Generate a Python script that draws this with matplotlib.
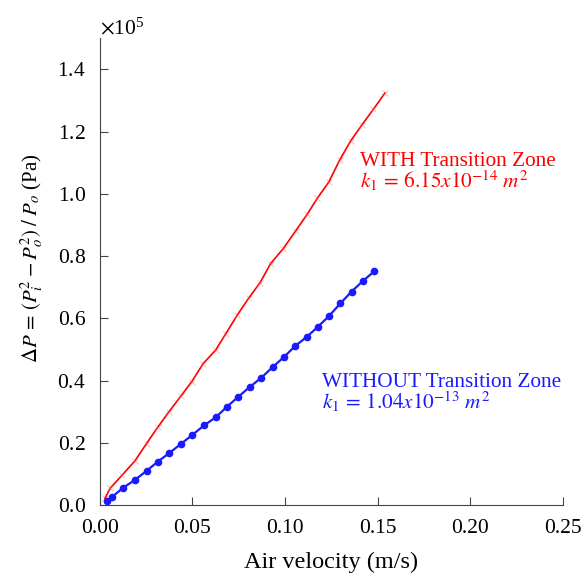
import numpy as np
import matplotlib
matplotlib.use('Agg')
import matplotlib.pyplot as plt

plt.rcParams['font.family'] = ['Liberation Serif', 'DejaVu Serif']
plt.rcParams['mathtext.fontset'] = 'stix'

# data (pressure in Pa)
v_with = [0.0027, 0.0056, 0.0120, 0.0189, 0.0252, 0.0312, 0.0373, 0.0437, 0.0495,
          0.0558, 0.0625, 0.0680, 0.0741, 0.0806, 0.0864, 0.0922, 0.0990, 0.1057,
          0.1119, 0.1173, 0.1236, 0.1296, 0.1354, 0.1413, 0.1476, 0.1539]
dp_with = [0.0215, 0.0546, 0.0963, 0.142, 0.198, 0.250, 0.300, 0.350, 0.396,
           0.455, 0.498, 0.551, 0.610, 0.667, 0.714, 0.776, 0.824, 0.881,
           0.934, 0.985, 1.038, 1.110, 1.170, 1.220, 1.271, 1.324]

v_without = [0.0036, 0.0067, 0.0126, 0.0189, 0.0252, 0.0313, 0.0374, 0.0436, 0.0500,
             0.0562, 0.0625, 0.0686, 0.0747, 0.0810, 0.0871, 0.0932, 0.0994, 0.1056,
             0.1116, 0.1177, 0.1238, 0.1298, 0.1359, 0.1418, 0.1481]
dp_without = [0.0128, 0.027, 0.056, 0.081, 0.110, 0.140, 0.167, 0.196, 0.226,
              0.256, 0.282, 0.316, 0.348, 0.380, 0.409, 0.443, 0.476, 0.512,
              0.540, 0.573, 0.608, 0.648, 0.686, 0.719, 0.751]

dp_with = np.array(dp_with) * 1e5
dp_without = np.array(dp_without) * 1e5

fig = plt.figure(figsize=(5.84, 5.78), dpi=100)
ax = fig.add_axes([0.171, 0.126, 0.793, 0.808])

ax.plot(v_with, dp_with, color='red', lw=1.2, marker='x', ms=4,
        mec=(1, 0.4, 0.4, 0.5), mew=0.6)
ax.plot(v_without, dp_without, color='#1a1aff', lw=1.6, marker='o', ms=4.5)

ax.text(0.1404, 1.134e5, 'WITH Transition Zone\n$k_1\\,=\\,6.15x10^{-14}\\ m^2$',
        color='red', fontsize=15.3, va='top', ha='left', linespacing=0.9)
ax.text(0.1200, 0.424e5, 'WITHOUT Transition Zone\n$k_1\\,=\\,1.04x10^{-13}\\ m^2$',
        color='#1a1aff', fontsize=15.3, va='top', ha='left', linespacing=0.9)

ax.set_xlim(0, 0.25)
ax.set_ylim(0, 1.5e5)
ax.set_xticks(np.arange(0, 0.251, 0.05))
ax.set_yticks(np.arange(0, 1.41e5, 0.2e5))
ax.set_xticklabels(['0.00', '0.05', '0.10', '0.15', '0.20', '0.25'])
ax.ticklabel_format(axis='y', style='sci', scilimits=(0, 0), useMathText=True)
ax.yaxis.get_offset_text().set_fontsize(15.5)

ax.spines['top'].set_visible(False)
ax.spines['right'].set_visible(False)
for s in ['left', 'bottom']:
    ax.spines[s].set_color('#444444')
ax.tick_params(direction='in', length=6, color='#444444', labelsize=15.5, pad=10)

ax.set_xlabel('Air velocity (m/s)', fontsize=17.5, labelpad=10)
ax.set_ylabel('$\\Delta P\\,=\\,(P_i^2 - P_o^2)\\;/\\;P_o$ (Pa)', fontsize=15)
ax.yaxis.set_label_coords(-0.118, 0.529)

fig.savefig('out.png', dpi=100)
